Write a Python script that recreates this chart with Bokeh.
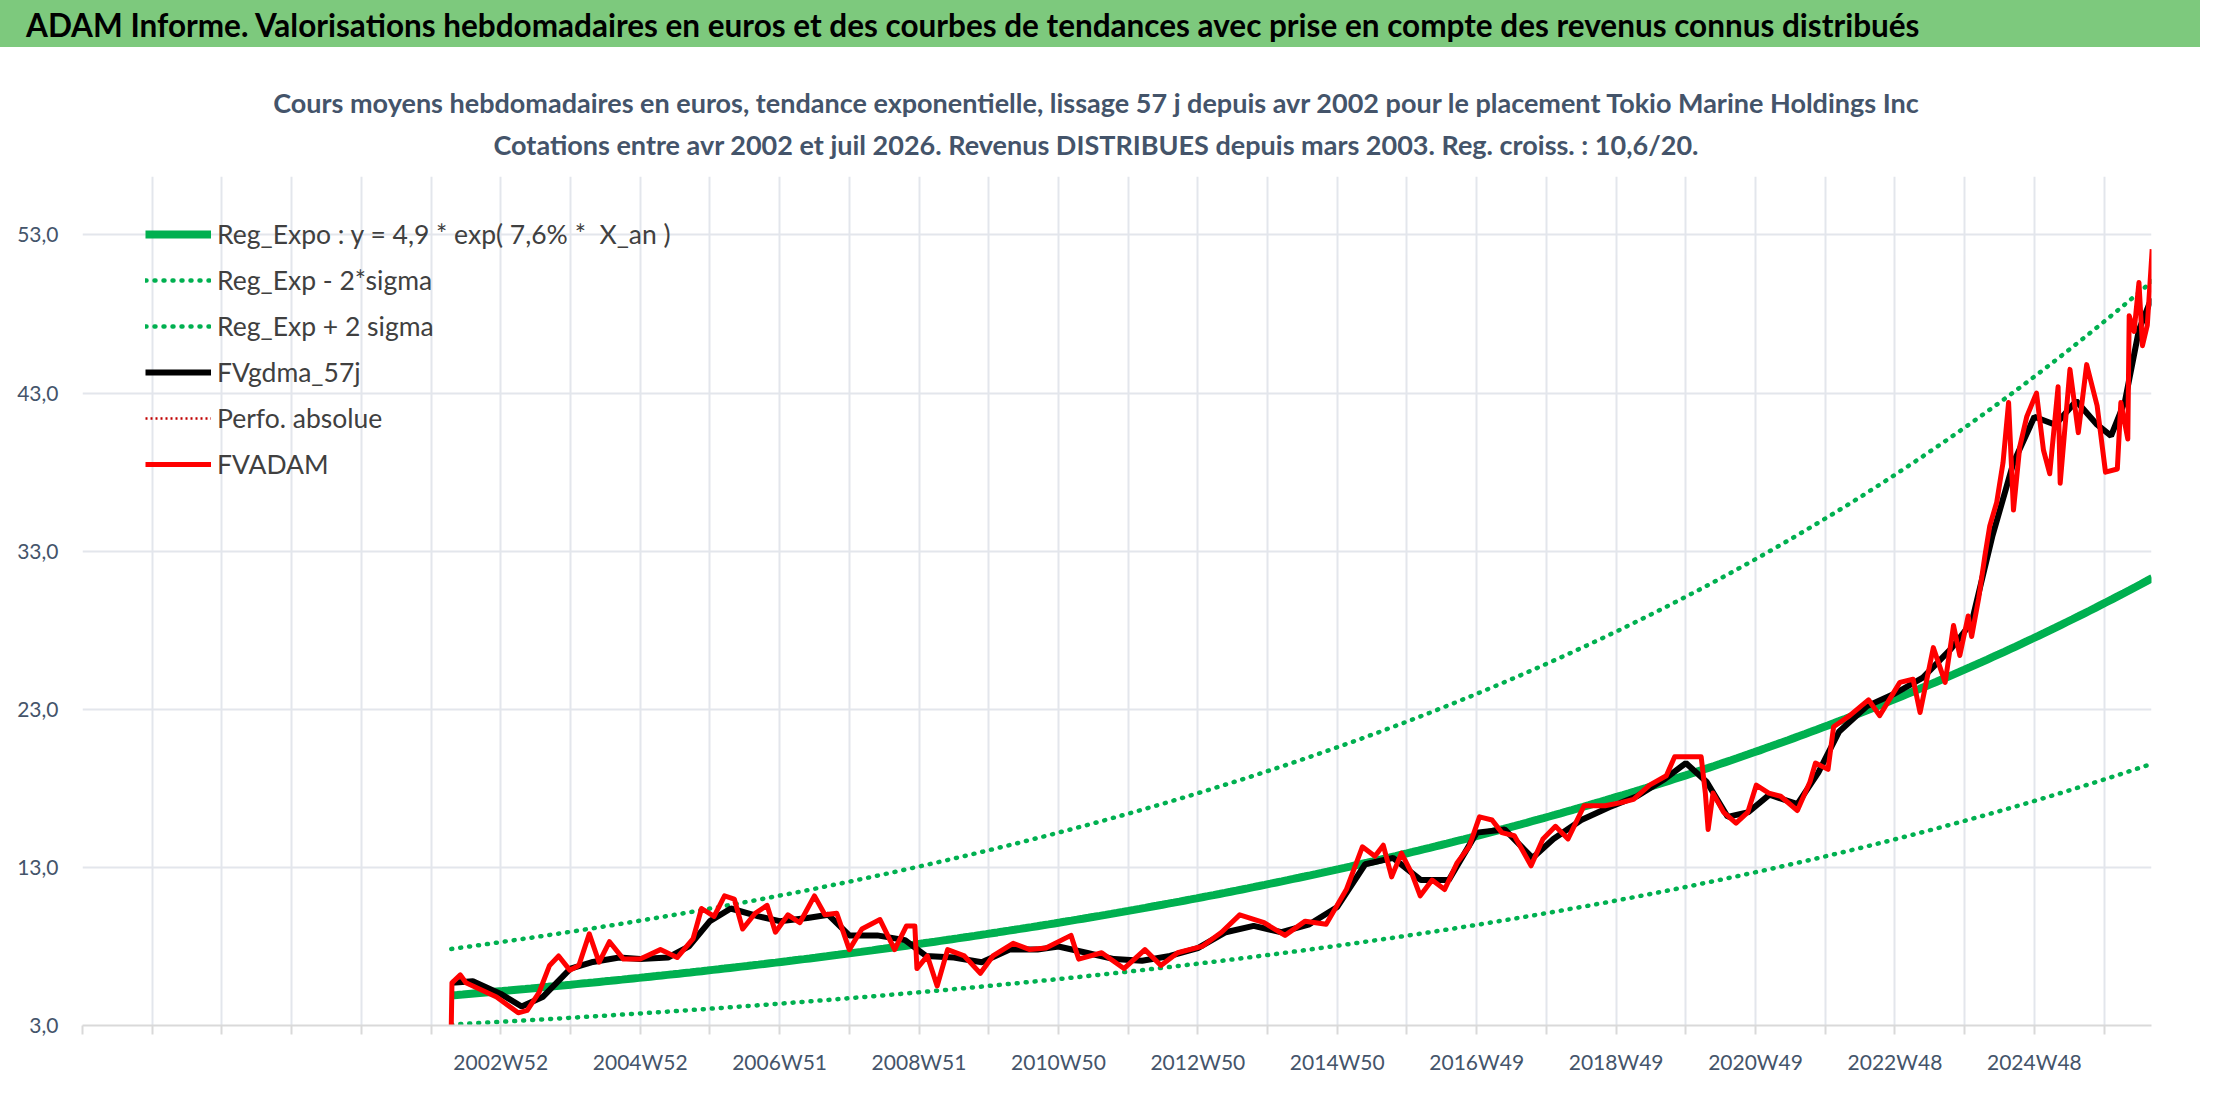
import numpy as np
from bokeh.plotting import figure
from bokeh.models import Div, FixedTicker, Legend, LegendItem, Range1d
from bokeh.layouts import column
from bokeh.embed import file_html
from bokeh.resources import INLINE

# ---- data ----
adam_years = [2002.29, 2002.30, 2002.42, 2002.5, 2002.94, 2003.25, 2003.38, 2003.55, 2003.7, 2003.83, 2003.99,
              2004.12, 2004.27, 2004.41, 2004.56, 2004.76, 2005.0, 2005.29, 2005.53, 2005.76, 2005.88, 2006.06,
              2006.21, 2006.35, 2006.47, 2006.65, 2006.82, 2006.94, 2007.12, 2007.29, 2007.5, 2007.65, 2007.82,
              2008.0, 2008.18, 2008.44, 2008.65, 2008.82, 2008.94, 2008.97, 2009.12, 2009.26, 2009.41, 2009.65,
              2009.88, 2010.06, 2010.35, 2010.59, 2010.82, 2011.18, 2011.29, 2011.62, 2011.94, 2012.24, 2012.47,
              2012.71, 2013.06, 2013.34, 2013.6, 2013.95, 2014.25, 2014.54, 2014.84, 2015.13, 2015.36, 2015.54,
              2015.66, 2015.78, 2015.92, 2016.07, 2016.19, 2016.36, 2016.54, 2016.72, 2016.89, 2017.04, 2017.22,
              2017.36, 2017.54, 2017.78, 2017.95, 2018.13, 2018.31, 2018.54, 2018.84, 2019.07, 2019.25, 2019.48,
              2019.72, 2019.84, 2020.01, 2020.22, 2020.28, 2020.32, 2020.39, 2020.54, 2020.72, 2020.89, 2021.01,
              2021.19, 2021.36, 2021.6, 2021.78, 2021.86, 2022.04, 2022.12, 2022.35, 2022.62, 2022.78, 2023.07,
              2023.26, 2023.36, 2023.55, 2023.72, 2023.84, 2023.93, 2024.05, 2024.1, 2024.2, 2024.29, 2024.36,
              2024.46, 2024.55, 2024.63, 2024.7, 2024.79, 2024.89, 2025.03, 2025.13, 2025.22, 2025.34, 2025.37,
              2025.51, 2025.63, 2025.75, 2025.9, 2026.02, 2026.19, 2026.24, 2026.34, 2026.36, 2026.43, 2026.5,
              2026.55, 2026.62, 2026.69]
adam_values = [3.0, 5.7, 6.2, 5.7, 4.8, 3.8, 3.96, 5.1, 6.8, 7.4, 6.5,
               6.8, 8.8, 7.0, 8.3, 7.2, 7.2, 7.8, 7.3, 8.5, 10.4, 9.9,
               11.2, 11.0, 9.1, 10.1, 10.6, 8.9, 10.0, 9.5, 11.2, 10.0, 10.1,
               7.8, 9.1, 9.7, 7.8, 9.3, 9.3, 6.6, 7.4, 5.5, 7.8, 7.4,
               6.3, 7.4, 8.2, 7.8, 7.9, 8.7, 7.2, 7.6, 6.6, 7.8, 6.8,
               7.6, 8.0, 8.9, 10.0, 9.5, 8.7, 9.6, 9.4, 11.6, 14.3, 13.7,
               14.4, 12.4, 13.9, 12.6, 11.2, 12.2, 11.6, 13.3, 14.3, 16.2, 16.0,
               15.2, 15.0, 13.1, 14.8, 15.6, 14.8, 16.9, 16.9, 17.1, 17.3, 18.2,
               18.8, 20.0, 20.0, 20.0, 17.7, 15.4, 17.7, 16.5, 15.8, 16.5, 18.2,
               17.7, 17.5, 16.6, 18.4, 19.6, 19.2, 21.9, 22.6, 23.6, 22.6, 24.7,
               24.9, 22.8, 26.9, 24.7, 28.3, 26.4, 28.9, 27.6, 30.0, 32.7, 34.6,
               36.1, 38.6, 42.4, 35.6, 39.6, 41.5, 43.0, 39.4, 37.9, 43.4, 37.3,
               44.5, 40.5, 44.8, 42.2, 38.0, 38.2, 42.4, 40.1, 47.9, 46.9, 50.0,
               46.0, 47.3, 52.1]

gdma_years = [2002.3, 2002.6, 2003.0, 2003.3, 2003.6, 2004.0, 2004.3, 2004.7, 2005.0, 2005.4, 2005.7, 2006.0,
              2006.3, 2006.7, 2007.0, 2007.4, 2007.7, 2008.0, 2008.4, 2008.8, 2009.1, 2009.5, 2009.9, 2010.3,
              2010.7, 2011.0, 2011.4, 2011.8, 2012.2, 2012.6, 2013.0, 2013.4, 2013.8, 2014.2, 2014.6, 2015.0,
              2015.4, 2015.8, 2016.2, 2016.6, 2017.0, 2017.4, 2017.8, 2018.1, 2018.5, 2018.9, 2019.3, 2019.7,
              2020.0, 2020.3, 2020.6, 2020.9, 2021.2, 2021.6, 2021.9, 2022.2, 2022.6, 2023.0, 2023.4, 2023.8,
              2024.1, 2024.4, 2024.7, 2025.0, 2025.3, 2025.6, 2025.9, 2026.1, 2026.3, 2026.5, 2026.68]
gdma_values = [5.7, 5.8, 5.0, 4.2, 4.8, 6.6, 7.0, 7.3, 7.2, 7.3, 8.0, 9.6,
               10.4, 9.9, 9.6, 9.8, 10.0, 8.7, 8.7, 8.4, 7.4, 7.3, 7.0, 7.8,
               7.8, 8.0, 7.6, 7.2, 7.1, 7.4, 7.9, 8.9, 9.3, 8.9, 9.4, 10.5,
               13.2, 13.6, 12.2, 12.2, 15.2, 15.4, 13.6, 14.8, 16.0, 16.8, 17.5, 18.6,
               19.6, 18.4, 16.2, 16.5, 17.6, 17.0, 19.0, 21.6, 23.2, 24.0, 25.0, 26.8,
               28.5, 34.0, 38.6, 41.5, 41.0, 42.5, 41.0, 40.3, 42.5, 47.0, 49.0]

# regression parameters from the legend: y = 4,9 * exp(7,6% * X_an)
reg_a = 4.9
reg_rate = 0.076
reg_start = 2002.29
reg_end = 2026.69
band_factor = 1.6

tick_years = list(range(1997, 2027))
tick_labels = {2003: "2002W52", 2005: "2004W52", 2007: "2006W51", 2009: "2008W51", 2011: "2010W50",
               2013: "2012W50", 2015: "2014W50", 2017: "2016W49", 2019: "2018W49", 2021: "2020W49",
               2023: "2022W48", 2025: "2024W48"}
y_ticks = [3, 13, 23, 33, 43, 53]

title_text = ("ADAM Informe. Valorisations hebdomadaires en euros et des courbes de tendances "
              "avec prise en compte des revenus connus distribués")
sub1 = ("Cours moyens hebdomadaires en euros, tendance exponentielle, lissage 57 j depuis avr 2002 "
        "pour le placement Tokio Marine Holdings Inc")
sub2 = "Cotations entre avr 2002 et juil 2026. Revenus DISTRIBUES depuis mars 2003. Reg. croiss. : 10,6/20."

# ---- header ----
header = Div(width=2200, height=172, styles={"margin": "0", "padding": "0"}, text=f"""
<div style="position:relative;width:2200px;height:172px;font-family:Lato;">
 <div style="position:absolute;left:0;top:0;width:2200px;height:47px;background:#7DC97D;"></div>
 <div style="position:absolute;left:26px;top:3px;font-size:31.5px;font-weight:bold;color:#000;white-space:nowrap;">{title_text}</div>
 <div style="position:absolute;left:0;top:84px;width:2192px;text-align:center;font-size:27px;font-weight:bold;color:#44546A;white-space:nowrap;">{sub1}</div>
 <div style="position:absolute;left:0;top:126px;width:2192px;text-align:center;font-size:27px;font-weight:bold;color:#44546A;white-space:nowrap;">{sub2}</div>
</div>""")

# ---- figure ----
p = figure(width=2200, height=918, output_backend="svg", toolbar_location=None,
           x_range=Range1d(1997.0, 2026.68), y_range=Range1d(3.0, 56.7),
           min_border_left=82, min_border_right=49, min_border_top=4, min_border_bottom=65)
p.outline_line_color = None
p.background_fill_color = "white"

xs = np.linspace(reg_start, reg_end, 300)
trend = reg_a * np.exp(reg_rate * (xs - reg_start))
r_trend = p.line(xs, trend, line_color="#00B050", line_width=8)
r_lo = p.line(xs, trend / band_factor, line_color="#00B050", line_width=4.5, line_dash="1 8", line_cap="round")
r_hi = p.line(xs, trend * band_factor, line_color="#00B050", line_width=4.5, line_dash="1 8", line_cap="round")
r_gdma = p.line(gdma_years, gdma_values, line_color="black", line_width=6)
r_perf = p.line([1990, 1991], [0, 0], line_color="#C00000", line_width=2.5, line_dash="2 3")
r_adam = p.line(adam_years, adam_values, line_color="#FF0000", line_width=5, line_join="round")

legend = Legend(items=[
    LegendItem(label="Reg_Expo : y = 4,9 * exp( 7,6% *  X_an )", renderers=[r_trend]),
    LegendItem(label="Reg_Exp - 2*sigma", renderers=[r_lo]),
    LegendItem(label="Reg_Exp + 2 sigma", renderers=[r_hi]),
    LegendItem(label="FVgdma_57j", renderers=[r_gdma]),
    LegendItem(label="Perfo. absolue", renderers=[r_perf]),
    LegendItem(label="FVADAM", renderers=[r_adam]),
], location=(63, 541))
legend.background_fill_alpha = 0
legend.border_line_color = None
legend.label_text_font = "Lato"
legend.label_text_font_size = "26.5px"
legend.label_text_color = "#404040"
legend.glyph_width = 66
legend.glyph_height = 40
legend.label_height = 40
legend.spacing = 6
legend.label_standoff = 6
legend.padding = 4
p.add_layout(legend)

p.xaxis.ticker = FixedTicker(ticks=tick_years)
p.xaxis.major_label_overrides = {y: tick_labels.get(y, "") for y in tick_years}
p.xaxis.axis_line_color = "#D9D9D9"
p.xaxis.axis_line_width = 2
p.xaxis.major_tick_line_color = "#D9D9D9"
p.xaxis.major_tick_line_width = 2
p.xaxis.major_tick_out = 9
p.xaxis.major_tick_in = 0
p.xaxis.minor_tick_line_color = None
p.xaxis.major_label_text_font = "Lato"
p.xaxis.major_label_text_font_size = "21px"
p.xaxis.major_label_text_color = "#44546A"
p.xaxis.major_label_standoff = 14

p.yaxis.ticker = FixedTicker(ticks=y_ticks)
p.yaxis.major_label_overrides = {v: f"{v},0" for v in y_ticks}
p.yaxis.axis_line_color = None
p.yaxis.major_tick_line_color = None
p.yaxis.minor_tick_line_color = None
p.yaxis.major_label_text_font = "Lato"
p.yaxis.major_label_text_font_size = "21px"
p.yaxis.major_label_text_color = "#44546A"
p.yaxis.major_label_standoff = 18

p.xgrid.ticker = FixedTicker(ticks=tick_years)
p.xgrid.grid_line_color = "#E3E6EC"
p.xgrid.grid_line_width = 2
p.ygrid.grid_line_color = "#E3E6EC"
p.ygrid.grid_line_width = 2

layout = column(header, p, spacing=0)
open("out.html", "w").write(file_html(layout, INLINE))
